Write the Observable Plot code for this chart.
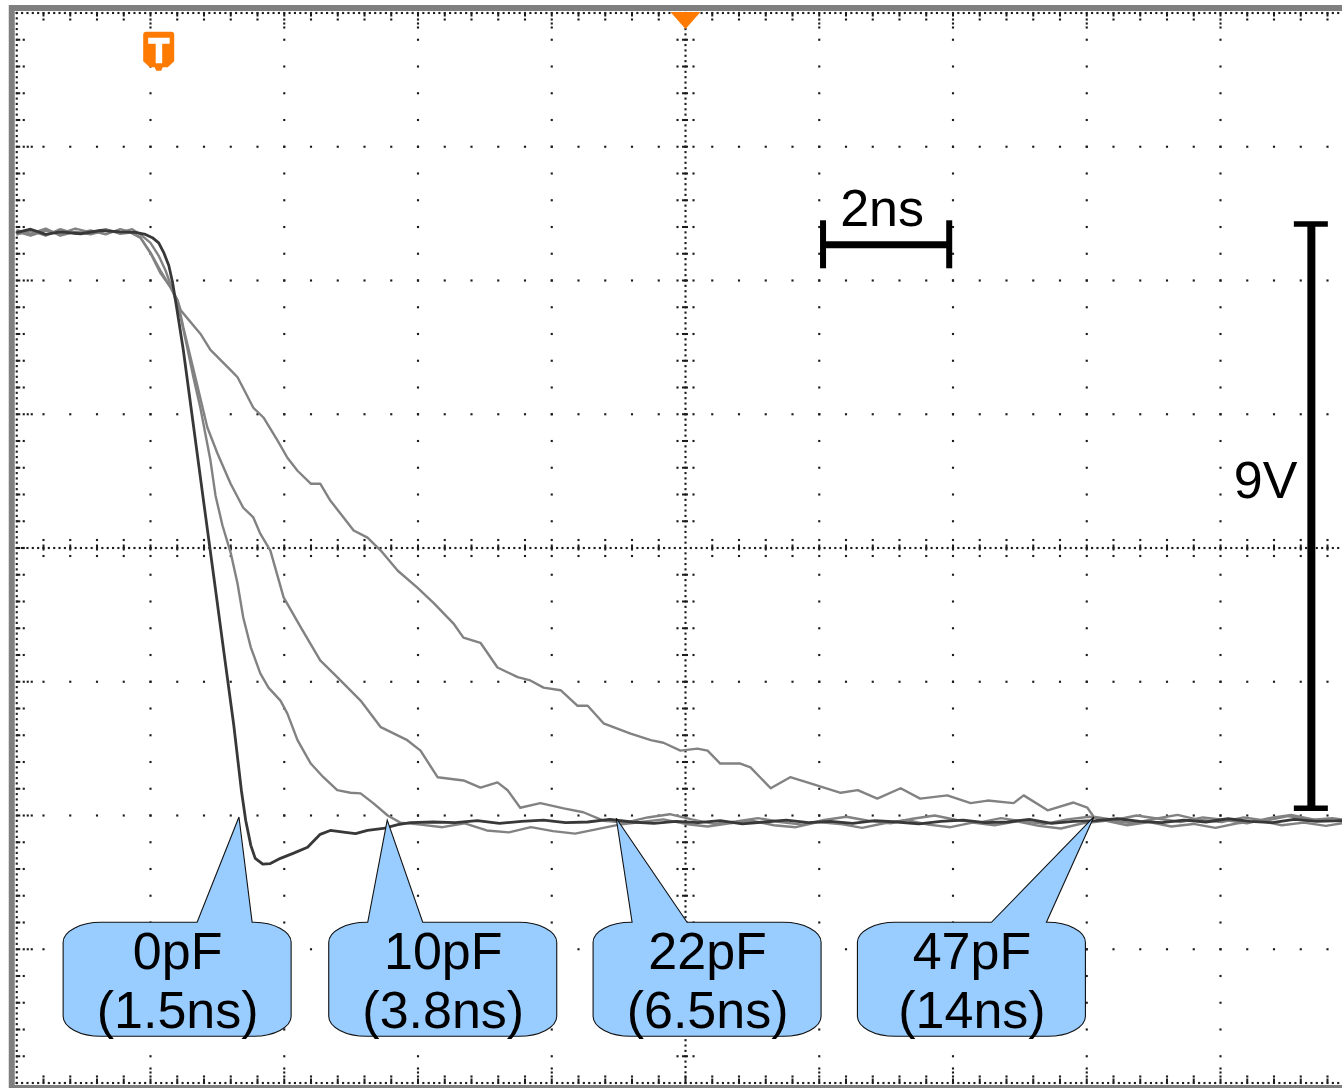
<!DOCTYPE html>
<html>
<head>
<meta charset="utf-8">
<script src="https://cdn.jsdelivr.net/npm/d3@7"></script>
<script src="https://cdn.jsdelivr.net/npm/@observablehq/plot@0.6"></script>
<style>
  html, body { margin: 0; padding: 0; background: #fff; overflow: hidden; }
  #chart svg { display: block; }
</style>
</head>
<body>
<div id="chart"></div>
<script>
// Scope settings: horizontal time base and vertical sensitivity per division
const NS_PER_DIV = 2.12;
const V_PER_DIV = 2.06;

// Falling edge into four load capacitances (time in ns, level in V)
const t0pF = [-10.59,-10.38,-10.14,-9.91,-9.59,-9.27,-8.96,-8.72,-8.56,-8.45,-8.35,-8.27,-8.19,-8.13,-8.07,-7.96,-7.80,-7.64,-7.48,-7.32,-7.16,-7.04,-6.97,-6.89,-6.82,-6.70,-6.58,-6.42,-6.21,-5.99,-5.79,-5.63,-5.39,-5.23,-5.04,-4.79,-4.56,-4.36,
  -4.00,-3.65,-3.30,-2.95,-2.60,-2.25,-1.90,-1.55,-1.20,-0.85,-0.50,-0.15,0.20,0.55,0.90,1.25,1.60,1.95,2.30,2.65,3.00,3.35,3.70,4.05,4.40,4.75,5.10,5.45,5.80,6.15,6.50,6.85,7.20,7.55,7.90,8.25,8.60,8.95,9.30,9.65,10.00,10.41];
const v0pF = [4.86,4.91,4.83,4.87,4.84,4.89,4.87,4.86,4.83,4.78,4.70,4.55,4.35,4.09,3.73,3.05,1.89,0.73,-0.42,-1.58,-2.73,-3.73,-4.20,-4.58,-4.78,-4.87,-4.86,-4.78,-4.70,-4.61,-4.41,-4.35,-4.38,-4.40,-4.35,-4.32,-4.26,-4.23,
  -4.22,-4.23,-4.20,-4.24,-4.21,-4.19,-4.23,-4.22,-4.18,-4.22,-4.24,-4.21,-4.23,-4.20,-4.25,-4.22,-4.19,-4.23,-4.21,-4.24,-4.20,-4.22,-4.25,-4.21,-4.19,-4.23,-4.22,-4.18,-4.24,-4.21,-4.20,-4.17,-4.21,-4.23,-4.19,-4.22,-4.17,-4.21,-4.23,-4.18,-4.21,-4.20];

const t10pF = [-10.59,-10.38,-10.14,-9.91,-9.67,-9.43,-9.19,-8.96,-8.77,-8.64,-8.48,-8.35,-8.24,-8.13,-8.00,-7.89,-7.80,-7.69,-7.53,-7.45,-7.34,-7.21,-7.10,-7.01,-6.89,-6.74,-6.61,-6.42,-6.31,-6.15,-5.94,-5.74,-5.52,-5.31,-5.15,-4.95,-4.72,-4.52,
  -4.20,-3.85,-3.50,-3.15,-2.80,-2.45,-2.10,-1.75,-1.40,-1.05,-0.70,-0.35,0.00,0.35,0.70,1.05,1.40,1.75,2.10,2.45,2.80,3.15,3.50,3.85,4.20,4.55,4.90,5.25,5.60,5.95,6.30,6.65,7.00,7.35,7.70,8.05,8.40,8.75,9.10,9.45,9.80,10.15,10.41];
const v10pF = [4.89,4.84,4.92,4.81,4.87,4.83,4.89,4.86,4.91,4.83,4.70,4.50,4.27,3.97,3.55,3.05,2.63,2.16,1.35,0.81,0.35,-0.07,-0.55,-1.07,-1.53,-1.93,-2.15,-2.35,-2.55,-2.96,-3.32,-3.53,-3.73,-3.77,-3.78,-3.93,-4.12,-4.23,
  -4.26,-4.30,-4.24,-4.35,-4.38,-4.30,-4.36,-4.40,-4.33,-4.26,-4.22,-4.18,-4.25,-4.29,-4.24,-4.20,-4.27,-4.30,-4.22,-4.25,-4.31,-4.24,-4.19,-4.26,-4.30,-4.23,-4.27,-4.21,-4.28,-4.32,-4.24,-4.20,-4.27,-4.22,-4.29,-4.25,-4.31,-4.24,-4.20,-4.27,-4.23,-4.28,-4.24];

const t22pF = [-10.59,-10.38,-10.14,-9.91,-9.67,-9.43,-9.19,-8.96,-8.80,-8.64,-8.48,-8.32,-8.16,-8.05,-7.96,-7.73,-7.58,-7.42,-7.21,-7.01,-6.85,-6.74,-6.58,-6.37,-6.10,-5.79,-5.52,-5.15,-4.83,-4.41,-4.20,-3.93,-3.52,-3.25,-2.98,-2.82,-2.62,-2.30,-1.93,-1.62,-1.30,
  -0.95,-0.60,-0.25,0.10,0.45,0.80,1.15,1.50,1.85,2.20,2.55,2.90,3.25,3.60,3.95,4.30,4.65,5.00,5.35,5.70,6.05,6.40,6.75,7.10,7.45,7.80,8.15,8.50,8.85,9.20,9.55,9.90,10.25,10.41];
const v22pF = [4.83,4.89,4.81,4.91,4.84,4.89,4.83,4.91,4.87,4.78,4.54,4.23,4.01,3.81,3.40,2.47,1.86,1.46,0.99,0.62,0.47,0.22,-0.04,-0.76,-1.22,-1.73,-1.99,-2.35,-2.76,-2.96,-3.12,-3.53,-3.58,-3.69,-3.61,-3.73,-4.00,-3.93,-4.01,-4.07,-4.20,
  -4.23,-4.15,-4.10,-4.18,-4.25,-4.21,-4.16,-4.22,-4.26,-4.19,-4.14,-4.20,-4.24,-4.17,-4.12,-4.19,-4.23,-4.16,-4.21,-4.25,-4.18,-4.14,-4.20,-4.24,-4.17,-4.11,-4.19,-4.22,-4.15,-4.20,-4.13,-4.19,-4.16,-4.18];

const t47pF = [-10.59,-10.38,-10.14,-9.91,-9.67,-9.43,-9.19,-8.96,-8.80,-8.64,-8.48,-8.32,-8.16,-8.05,-8.00,-7.69,-7.53,-7.21,-7.10,-6.85,-6.69,-6.47,-6.31,-6.15,-5.94,-5.79,-5.63,-5.42,-5.26,-5.04,-4.83,-4.56,-4.25,-3.99,-3.68,-3.52,-3.25,-2.98,-2.66,-2.46,
  -2.25,-1.98,-1.71,-1.55,-1.30,-0.87,-0.55,-0.35,-0.08,0.19,0.35,0.55,0.87,1.03,1.35,1.66,1.93,2.46,2.73,3.04,3.41,3.72,4.15,4.52,4.79,5.20,5.36,5.74,6.15,6.37,6.47,
  6.80,7.15,7.50,7.85,8.20,8.55,8.90,9.25,9.60,9.95,10.41];
const v47pF = [4.87,4.81,4.89,4.84,4.92,4.86,4.91,4.84,4.86,4.78,4.55,4.27,4.01,3.81,3.66,3.30,3.05,2.74,2.63,2.16,2.01,1.66,1.39,1.19,0.99,0.99,0.73,0.47,0.27,0.16,-0.04,-0.35,-0.61,-0.85,-1.16,-1.38,-1.46,-1.84,-1.99,-2.04,
  -2.15,-2.19,-2.43,-2.43,-2.70,-2.86,-2.96,-3.00,-3.12,-3.09,-3.12,-3.32,-3.32,-3.38,-3.70,-3.53,-3.61,-3.77,-3.73,-3.86,-3.70,-3.86,-3.81,-3.93,-3.89,-3.93,-3.81,-4.04,-3.92,-4.00,-4.14,
  -4.19,-4.12,-4.17,-4.22,-4.15,-4.19,-4.24,-4.16,-4.11,-4.18,-4.21];

// Callout labels: load capacitance and measured fall time
const loads = ["0pF", "10pF", "22pF", "47pF"];
const fallTimes = ["(1.5ns)", "(3.8ns)", "(6.5ns)", "(14ns)"];
// Where each callout points (the settling point of its trace)
const tipTimes = [-7.07, -4.72, -1.09, 6.48];
const tipVolts = [-4.15, -4.20, -4.17, -4.15];
// Callout box centres
const boxTimes = [-8.05, -3.84, 0.35, 4.54];
const boxVolt = -6.65;

// Scale bars
const timeBarLabel = "2ns";
const timeBarStart = 2.18, timeBarLength = 2, timeBarLevel = 4.67;
const voltBarLabel = "9V";
const voltBarTime = 9.92, voltBarLow = -4.01, voltBarSpan = 9;

// Trigger markers: horizontal trigger position and trigger level
const trigTime = -8.35, trigBadgeVolt = 7.65;

// ---------- layout ----------
const W = 1342, H = 1088;
const mL = 16.25, mR = -11.75, mT = 12.5, mB = 5.5;
const divPx = (W - mL - mR) / 10;
const pxT = NS_PER_DIV / divPx, pxV = V_PER_DIV / divPx;   // data units per pixel
const xMax = 5 * NS_PER_DIV, yMax = 4 * V_PER_DIV;
const minorT = NS_PER_DIV / 5, minorV = V_PER_DIV / 5;
const fineT = NS_PER_DIV / 25, fineV = V_PER_DIV / 25;
const FONT = "'Liberation Sans', Arial, Helvetica, sans-serif";
const GRID = "#1c1c1c";

const rows = (t, v, name) => t.map((x, i) => ({t: x, v: v[i], trace: name})).filter(d => d.v !== undefined);
const trace0 = rows(t0pF, v0pF, "0pF");
const trace10 = rows(t10pF, v10pF, "10pF");
const trace22 = rows(t22pF, v22pF, "22pF");
const trace47 = rows(t47pF, v47pF, "47pF");

// ---------- graticule ----------
const dots = [];
const tickDashX = [];   // vertical dashes (on horizontal lines)
const tickDashY = [];   // horizontal dashes (on vertical lines)
// dotted major lines
for (let i = -4; i <= 4; i++) if (i) for (let j = -19; j <= 19; j++) dots.push({x: i * NS_PER_DIV, y: j * minorV});
for (let j = -3; j <= 3; j++) if (j) for (let i = -24; i <= 24; i++) dots.push({x: i * minorT, y: j * V_PER_DIV});
// finely dotted centre cross and outer frame
for (let k = -125; k <= 125; k++) {
  dots.push({x: k * fineT, y: 0});
  dots.push({x: k * fineT, y: yMax});
  dots.push({x: k * fineT, y: -yMax});
}
for (let k = -100; k <= 100; k++) {
  dots.push({x: 0, y: k * fineV});
  dots.push({x: -xMax, y: k * fineV});
  dots.push({x: xMax, y: k * fineV});
}
// minor ticks on the centre cross
for (let i = -24; i <= 24; i++) if (i) {
  const x = i * minorT;
  tickDashX.push({x, y1: -3 * pxV, y2: 3 * pxV});
  dots.push({x, y: 8 * pxV}, {x, y: -8 * pxV});
}
for (let j = -19; j <= 19; j++) if (j) {
  const y = j * minorV;
  tickDashY.push({y, x1: -3 * pxT, x2: 3 * pxT});
  dots.push({x: 8 * pxT, y}, {x: -8 * pxT, y});
}
// minor ticks on the outer frame
for (let i = -24; i <= 24; i++) {
  const x = i * minorT;
  tickDashX.push({x, y1: yMax, y2: yMax - 4 * pxV});
  tickDashX.push({x, y1: -yMax, y2: -yMax + 4 * pxV});
  dots.push({x, y: yMax - 6.5 * pxV}, {x, y: -yMax + 6.5 * pxV});
  if (i % 5 === 0 && i !== 0) for (const o of [10.5, 14.5]) dots.push({x, y: yMax - o * pxV}, {x, y: -yMax + o * pxV});
}
for (let j = -19; j <= 19; j++) {
  const y = j * minorV;
  tickDashY.push({y, x1: -xMax, x2: -xMax + 4 * pxT});
  dots.push({x: -xMax + 7 * pxT, y});
  if (j % 5 === 0 && j !== 0) for (const o of [11, 15]) dots.push({x: -xMax + o * pxT, y});
}

// ---------- custom marker shapes ----------
const shield = {draw(c) {
  c.moveTo(-12.5, -19.5); c.lineTo(12.5, -19.5); c.quadraticCurveTo(15.5, -19.5, 15.5, -16.5);
  c.lineTo(15.5, 10); c.lineTo(9, 16); c.lineTo(4, 16); c.lineTo(2.5, 19.5); c.lineTo(-2.5, 19.5);
  c.lineTo(-4, 16); c.lineTo(-9, 16); c.lineTo(-15.5, 10); c.lineTo(-15.5, -16.5);
  c.quadraticCurveTo(-15.5, -19.5, -12.5, -19.5); c.closePath();
}};
const teeGlyph = {draw(c) {
  c.moveTo(-10.5, -13.5); c.lineTo(11, -13.5); c.lineTo(11, -7.5); c.lineTo(3.5, -7.5); c.lineTo(3.5, 12);
  c.lineTo(-3, 12); c.lineTo(-3, -7.5); c.lineTo(-10.5, -7.5); c.closePath();
}};
const downArrow = {draw(c) { c.moveTo(-15, -1); c.lineTo(15, -1); c.lineTo(0, 16); c.closePath(); }};

const calloutText = loads.map((l, i) => ({t: boxTimes[i], v: boxVolt, label: `${l}\n${fallTimes[i]}`}));

const plot = Plot.plot({
  width: W,
  height: H,
  marginLeft: mL, marginRight: mR, marginTop: mT, marginBottom: mB,
  x: {domain: [-xMax, xMax], axis: null},
  y: {domain: [-yMax, yMax], axis: null},
  style: {background: "white", fontFamily: FONT},
  marks: [
    Plot.frame({stroke: "#7f7f7f", strokeWidth: 6, inset: -5}),
    Plot.dot(dots, {x: "x", y: "y", r: 1.2, symbol: "square", fill: GRID, stroke: "none"}),
    Plot.ruleX(tickDashX, {x: "x", y1: "y1", y2: "y2", stroke: GRID, strokeWidth: 2}),
    Plot.ruleY(tickDashY, {y: "y", x1: "x1", x2: "x2", stroke: GRID, strokeWidth: 2}),
    // traces
    Plot.line(trace47, {x: "t", y: "v", stroke: "#828282", strokeWidth: 2.4}),
    Plot.line(trace22, {x: "t", y: "v", stroke: "#828282", strokeWidth: 2.4}),
    Plot.line(trace10, {x: "t", y: "v", stroke: "#828282", strokeWidth: 2.4}),
    Plot.line(trace0, {x: "t", y: "v", stroke: "#383838", strokeWidth: 2.8}),
    // trigger markers
    Plot.dot([trigTime], {x: d => d, y: () => trigBadgeVolt, symbol: shield, fill: "#ff7a00", stroke: "none"}),
    Plot.dot([trigTime], {x: d => d, y: () => trigBadgeVolt, symbol: teeGlyph, fill: "white", stroke: "none"}),
    Plot.dot([0], {x: d => d, y: () => yMax, symbol: downArrow, fill: "#ff7a00", stroke: "none"}),
    // time scale bar
    Plot.ruleY([timeBarLevel], {y: d => d, x1: () => timeBarStart, x2: () => timeBarStart + timeBarLength, stroke: "black", strokeWidth: 7}),
    Plot.ruleX([timeBarStart, timeBarStart + timeBarLength], {x: d => d, y1: () => timeBarLevel - 24 * pxV, y2: () => timeBarLevel + 24 * pxV, stroke: "black", strokeWidth: 6}),
    Plot.text([timeBarLabel], {x: () => timeBarStart + timeBarLength / 2 - 4 * pxT, y: () => timeBarLevel + 19 * pxV, text: d => d, lineAnchor: "bottom", fontSize: 52, fill: "black"}),
    // voltage scale bar
    Plot.ruleX([voltBarTime], {x: d => d, y1: () => voltBarLow, y2: () => voltBarLow + voltBarSpan, stroke: "black", strokeWidth: 8}),
    Plot.ruleY([voltBarLow, voltBarLow + voltBarSpan], {y: d => d, x1: () => voltBarTime - 17 * pxT, x2: () => voltBarTime + 17 * pxT, stroke: "black", strokeWidth: 5.5}),
    Plot.text([voltBarLabel], {x: () => voltBarTime - 14 * pxT, y: () => voltBarLow + voltBarSpan / 2 + 18 * pxV, text: d => d, textAnchor: "end", lineAnchor: "bottom", fontSize: 52, fill: "black"}),
    // callout labels
    Plot.text(calloutText, {x: "t", y: "v", text: "label", fontSize: 52, lineHeight: 1.12, fill: "black"})
  ]
});

// Callout balloons, drawn in pixel space from the plot's own scales and
// placed beneath the label text.
const sx = plot.scale("x"), sy = plot.scale("y");
const X = v => sx.apply(v), Y = v => sy.apply(v);
const hw = 114, hh = 57, rx = 38, ry = 20;
const balloons = d3.create("svg:g").attr("aria-label", "callouts");
loads.forEach((_, i) => {
  const cx = X(boxTimes[i]), cy = Y(boxVolt);
  const tx = X(tipTimes[i]), ty = Y(tipVolts[i]);
  const side = tx >= cx ? 1 : -1;
  const bA = cx + side * 20, bB = cx + side * 75;
  const b1 = Math.min(bA, bB), b2 = Math.max(bA, bB);
  const top = cy - hh, bot = cy + hh, left = cx - hw, right = cx + hw;
  const p = d3.path();
  p.moveTo(left + rx, top);
  p.lineTo(b1, top); p.lineTo(tx, ty); p.lineTo(b2, top);
  p.lineTo(right - rx, top);
  p.bezierCurveTo(right - rx * 0.45, top, right, top + ry * 0.45, right, top + ry);
  p.lineTo(right, bot - ry);
  p.bezierCurveTo(right, bot - ry * 0.45, right - rx * 0.45, bot, right - rx, bot);
  p.lineTo(left + rx, bot);
  p.bezierCurveTo(left + rx * 0.45, bot, left, bot - ry * 0.45, left, bot - ry);
  p.lineTo(left, top + ry);
  p.bezierCurveTo(left, top + ry * 0.45, left + rx * 0.45, top, left + rx, top);
  p.closePath();
  balloons.append("path").attr("d", p.toString())
    .attr("fill", "#99ccff").attr("stroke", "#111").attr("stroke-width", 1.1);
});
const textGroups = plot.querySelectorAll('g[aria-label="text"]');
const labelGroup = textGroups[textGroups.length - 1];
plot.insertBefore(balloons.node(), labelGroup);

document.getElementById("chart").appendChild(plot);
</script>
</body>
</html>
